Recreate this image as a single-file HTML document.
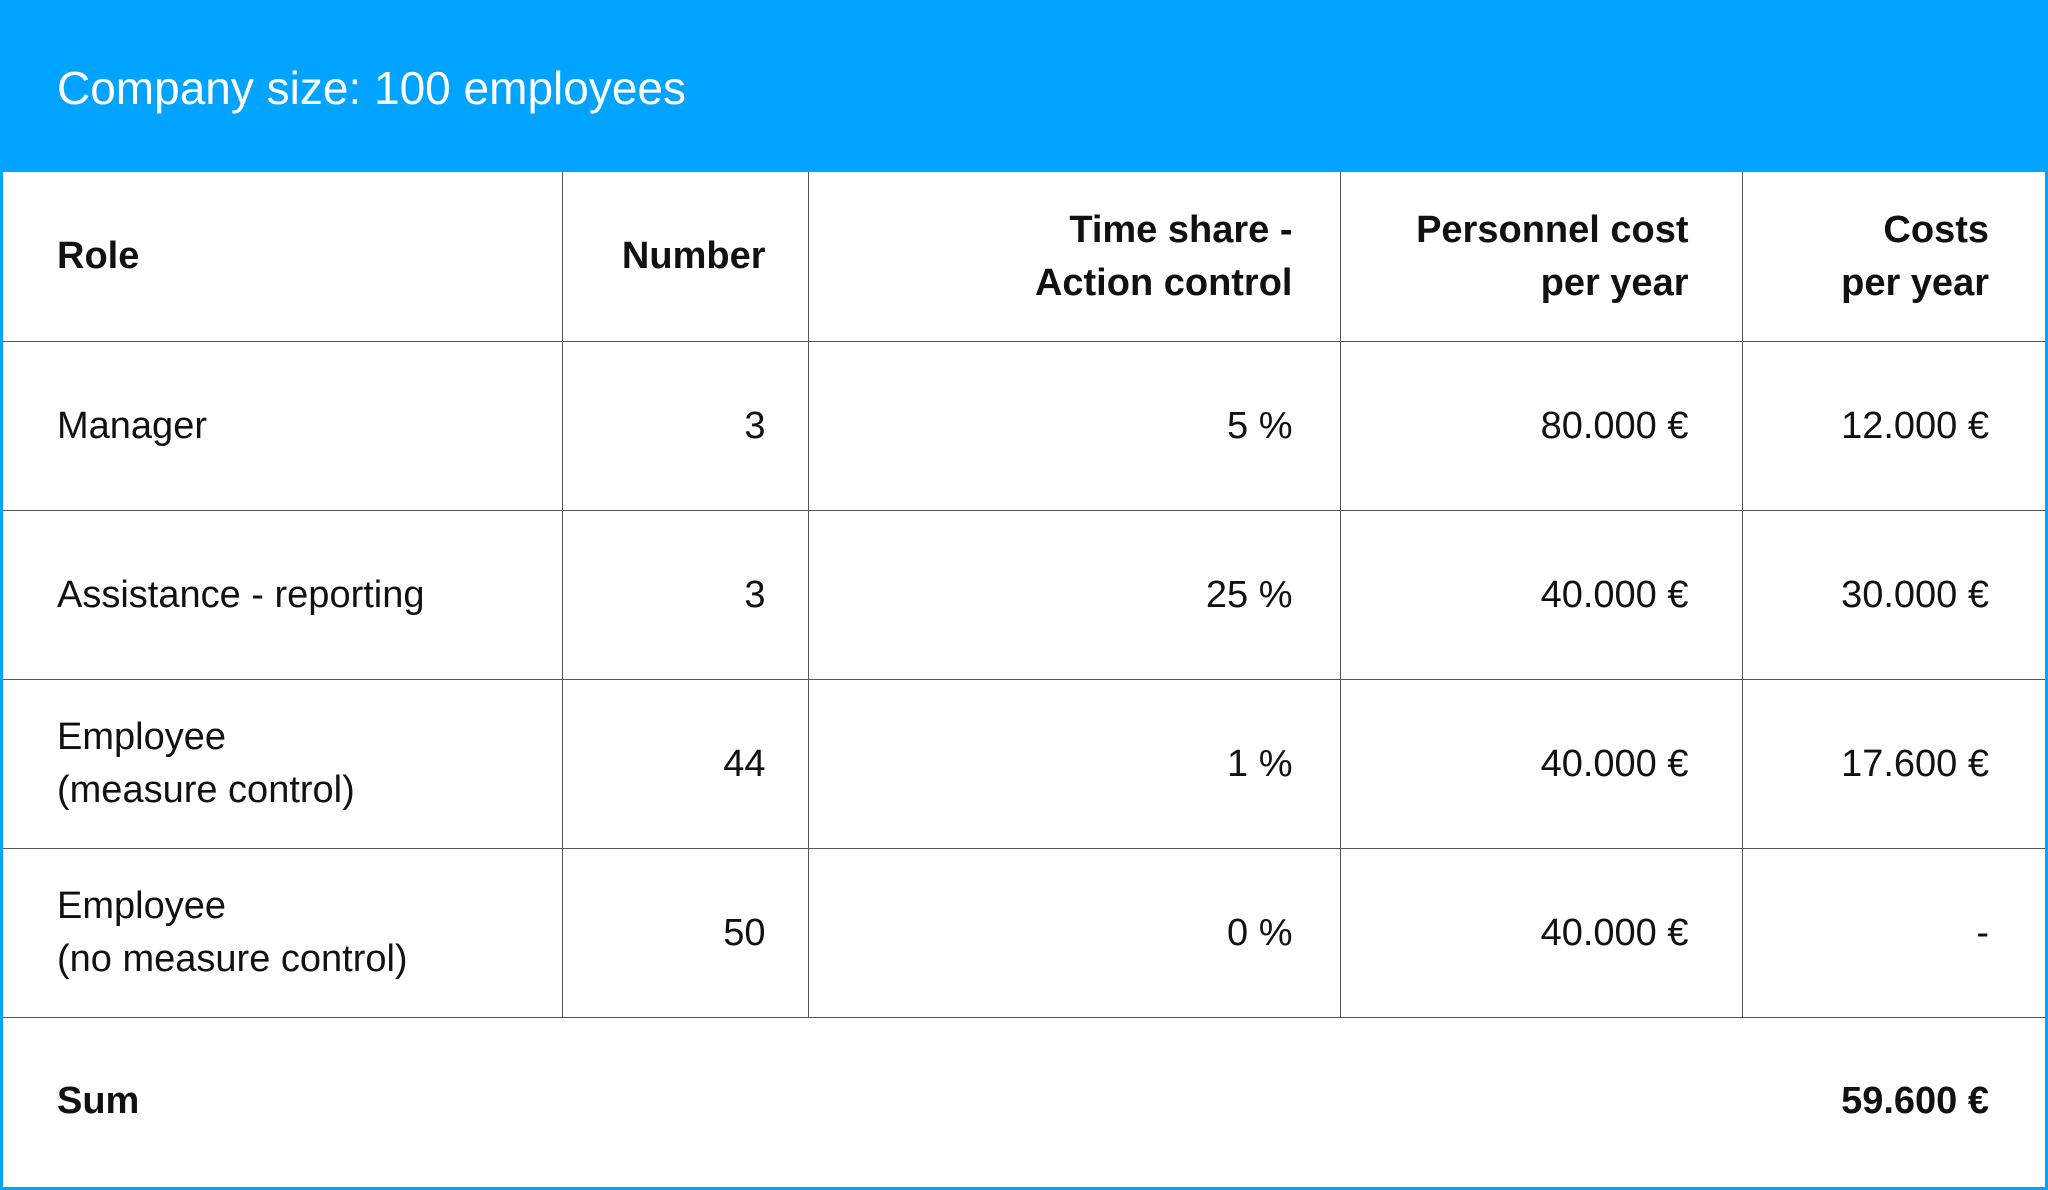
<!DOCTYPE html>
<html><head><meta charset="utf-8">
<style>
html,body{margin:0;padding:0;background:#fff;}
body{width:2048px;height:1190px;overflow:hidden;position:relative;font-family:"Liberation Sans",Arial,sans-serif;}
#frame{position:absolute;left:0;top:0;width:2048px;height:1190px;box-sizing:border-box;border:3px solid #00A3FF;border-top:none;}
#head{position:absolute;left:0;top:0;width:2048px;height:172px;background:#00A3FF;}
#title{position:absolute;left:57px;top:60px;font-size:46px;color:#fff;line-height:56px;white-space:nowrap;}
table{position:absolute;left:3px;top:172px;width:2042px;border-collapse:collapse;table-layout:fixed;}
td,th{border:1.5px solid #555;color:#111;font-size:38px;line-height:53px;padding:0;text-align:right;vertical-align:middle;}
tr td:first-child,tr th:first-child{border-left:none;text-align:left;padding-left:54px;}
tr td:last-child,tr th:last-child{border-right:none;padding-right:56px;}
tr:first-child th{border-top:none;}
th{font-weight:bold;height:169px;}
td{height:168px;}
.c2{padding-right:42px;}.c3{padding-right:47px;}.c4{padding-right:53px;}
tr.sum td{border:none;border-top:1.5px solid #555;font-weight:bold;height:167px;}
</style></head><body>
<div id="head"><div id="title">Company size: 100 employees</div></div>
<table>
<colgroup><col style="width:559px"><col style="width:246px"><col style="width:532px"><col style="width:402px"><col style="width:303px"></colgroup>
<tr>
<th>Role</th>
<th class="c2">Number</th>
<th class="c3">Time share -<br>Action control</th>
<th class="c4">Personnel cost<br>per year</th>
<th>Costs<br>per year</th></tr>
<tr><td>Manager</td><td class="c2">3</td><td class="c3">5 %</td><td class="c4">80.000 €</td><td>12.000 €</td></tr>
<tr><td>Assistance - reporting</td><td class="c2">3</td><td class="c3">25 %</td><td class="c4">40.000 €</td><td>30.000 €</td></tr>
<tr><td>Employee<br>(measure control)</td><td class="c2">44</td><td class="c3">1 %</td><td class="c4">40.000 €</td><td>17.600 €</td></tr>
<tr><td>Employee<br>(no measure control)</td><td class="c2">50</td><td class="c3">0 %</td><td class="c4">40.000 €</td><td>-</td></tr>
<tr class="sum"><td>Sum</td><td></td><td></td><td></td><td>59.600 €</td></tr>
</table>
<div id="frame"></div>
</body></html>
